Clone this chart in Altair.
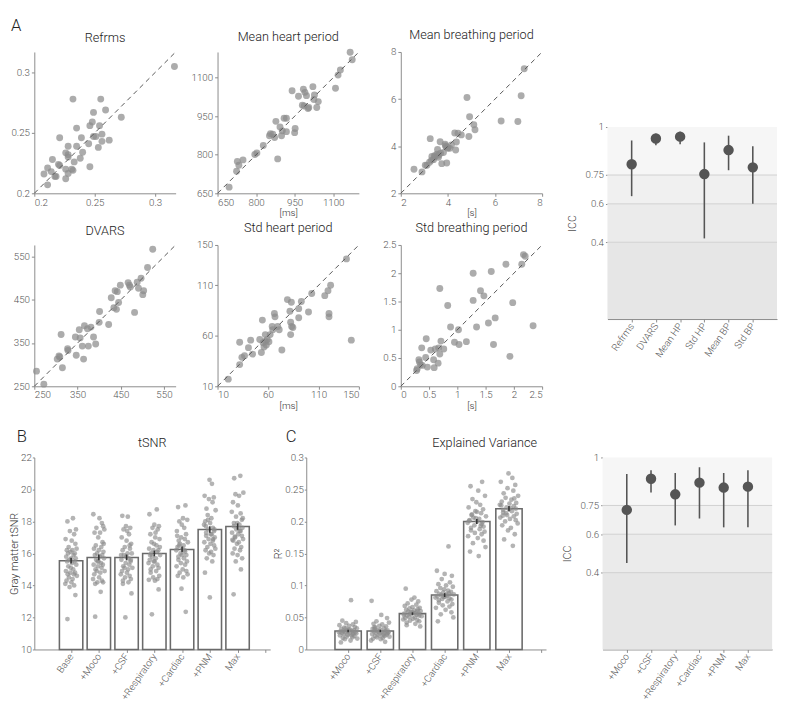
import altair as alt
import pandas as pd

# ---------------- data ----------------
# Panel A scatter plots (session 1 vs session 2)
ref_x = [0.232,0.255,0.249,0.259,0.272,0.248,0.235,0.246,0.254,0.221,0.239,0.249,0.256,0.262,0.256,0.228,0.235,0.245,0.253,0.240,0.226,0.228,0.228,0.233,0.238,0.215,0.220,0.221,0.226,0.231,0.232,0.246,0.211,0.214,0.208,0.217,0.218,0.226,0.228,0.211,0.251,0.316]
ref_y = [0.278,0.278,0.267,0.269,0.263,0.259,0.254,0.256,0.256,0.246,0.246,0.247,0.249,0.244,0.243,0.239,0.239,0.241,0.238,0.234,0.2335,0.232,0.230,0.226,0.229,0.228,0.224,0.223,0.220,0.220,0.219,0.222,0.221,0.218,0.216,0.214,0.214,0.212,0.2165,0.207,0.247,0.305]

hp_x = [695,724,727,733,749,795,803,828,852,856,865,872,877,884,893,899,902,909,918,918,940,950,952,965,984,990,996,1002,987,980,1005,1021,1025,1027,1036,1042,1109,1119,1128,1166,1174]
hp_y = [674,736,774,759,780,801,807,836,874,882,880,867,930,784,908,874,893,942,942,890,1049,886,902,1028,1055,1043,1030,980,990,993,984,1065,1015,1033,984,1007,1059,1110,1130,1199,1170]

bp_x = [2.56,2.90,3.04,3.11,3.22,3.25,3.32,3.39,3.43,3.53,3.56,3.60,3.67,3.69,3.74,3.81,3.88,3.92,3.95,3.99,4.08,4.33,4.36,4.29,4.43,4.57,4.89,4.81,4.92,5.10,5.15,6.26,6.97,7.11,7.24,3.45,3.90,4.00,3.60,4.15,3.30]
bp_y = [3.02,2.91,3.19,3.19,3.32,4.32,3.56,3.43,3.60,3.66,3.86,3.53,4.19,3.70,3.26,3.73,4.09,3.98,3.29,3.91,3.91,3.84,4.18,4.56,4.55,4.48,4.41,6.07,5.25,4.91,4.70,5.07,5.05,6.14,7.29,3.55,4.02,3.95,3.62,4.05,3.40]

dv_x = [255,272,303,307,309,315,312,327,328,345,347,354,356,361,364,366,373,375,381,387,392,400,401,422,428,434,437,440,442,445,449,467,470,472,482,488,491,497,501,503,512,524]
dv_y = [285,255,313,320,318,293,370,337,333,364,322,381,362,343,313,390,383,343,387,364,348,398,423,393,455,432,471,428,469,444,484,490,484,480,421,491,477,500,462,471,525,567]

sh_x = [20.6,31.9,34.1,36.7,31.9,40.6,42.8,44.7,51.8,54.4,53.4,55.1,56.0,57.3,58.3,57.3,59.2,60.9,62.1,64.1,64.7,66.3,66.9,69.6,71.1,73.7,79.2,83.1,81.7,82.4,83.4,82.4,84.6,90.4,90.4,93.0,100.1,103.3,116.2,119.4,122.0,120.4,120.4,137.7,142.5]
sh_y = [17.1,31.5,38.7,40.2,53.7,48.3,55.7,41.9,56.3,75.6,43.5,53.1,48.9,54.7,50.8,61.2,56.3,54.1,61.2,69.2,66.0,82.1,78.8,69.2,66.0,46.0,95.9,93.3,84.3,73.4,69.2,61.2,68.2,86.9,77.9,94.0,83.6,102.0,99.8,104.6,110.1,82.1,78.8,136.2,55.7]

sb_x = [0.28,0.29,0.32,0.33,0.35,0.38,0.44,0.45,0.37,0.47,0.53,0.58,0.59,0.61,0.66,0.67,0.69,0.69,0.71,0.83,0.88,0.76,0.95,1.02,1.03,1.16,1.28,1.28,1.34,1.41,1.47,1.55,1.60,1.64,1.67,1.86,1.93,1.98,2.14,2.17,2.20,2.34]
sb_y = [0.28,0.31,0.47,0.43,0.38,0.37,0.51,0.84,0.68,0.34,0.64,0.47,0.33,0.66,0.41,0.68,1.73,0.57,0.80,1.43,1.05,0.66,0.78,1.00,0.74,0.79,2.00,1.52,1.05,1.69,1.60,1.12,2.03,0.74,1.21,2.16,0.53,1.48,2.16,2.33,2.30,1.07]

# ICC panels
icc_top_names = ["Refrms", "DVARS", "Mean HP", "Std HP", "Mean BP", "Std BP"]
icc_top = [0.806, 0.940, 0.950, 0.755, 0.880, 0.790]
icc_top_lo = [0.640, 0.905, 0.910, 0.420, 0.775, 0.600]
icc_top_hi = [0.930, 0.965, 0.975, 0.920, 0.955, 0.900]

icc_bot_names = ["+Moco", "+CSF", "+Respiratory", "+Cardiac", "+PNM", "Max"]
icc_bot = [0.727, 0.889, 0.808, 0.869, 0.843, 0.848]
icc_bot_lo = [0.450, 0.818, 0.646, 0.682, 0.636, 0.636]
icc_bot_hi = [0.914, 0.934, 0.919, 0.949, 0.919, 0.934]

icc_ticks = [0.4, 0.6, 0.75, 1]
band_lo = [0, 0.4, 0.6, 0.75]
band_hi = [0.4, 0.6, 0.75, 1]
band_col = ["#e6e6e6", "#ebebeb", "#f0f0f0", "#f6f6f6"]

# Panel B: tSNR
tsnr_names = ["Base", "+Moco", "+CSF", "+Respiratory", "+Cardiac", "+PNM", "Max"]
tsnr_mean = [15.55, 15.75, 15.75, 16.0, 16.25, 17.5, 17.68]
tsnr_sem = [0.18, 0.18, 0.18, 0.18, 0.18, 0.2, 0.2]
t_base = [18.2,18.0,17.5,17.4,17.2,16.9,16.8,16.6,16.4,16.3,16.2,16.2,16.1,16.0,16.0,15.9,15.8,15.7,15.7,15.6,15.5,15.5,15.4,15.3,15.2,15.1,15.0,14.9,14.8,14.8,14.7,14.7,14.6,14.5,14.4,14.3,14.2,14.1,14.0,13.9,13.4,11.9]
t_moco = [18.45,18.2,17.7,17.6,17.5,17.3,17.3,17.0,16.7,16.5,16.4,16.3,16.2,16.1,16.0,15.9,15.9,15.8,15.7,15.6,15.5,15.4,15.3,15.3,15.2,15.1,15.0,14.9,14.9,14.8,14.7,14.5,14.4,14.3,14.2,14.2,14.1,13.6,12.05,16.6,15.5,17.9]
t_csf = [18.35,18.3,17.7,17.6,17.5,17.2,17.0,16.8,16.6,16.4,16.3,16.2,16.0,16.0,15.9,15.8,15.7,15.6,15.5,15.4,15.3,15.2,15.1,15.1,15.0,14.9,14.8,14.7,14.6,14.5,14.4,14.3,14.2,14.1,13.5,12.0,16.5,15.9,17.4,15.6]
t_resp = [18.75,18.45,17.8,17.7,17.6,17.5,17.2,17.0,16.9,16.7,16.6,16.5,16.3,16.2,16.2,16.1,16.0,15.9,15.8,15.7,15.6,15.5,15.4,15.3,15.2,15.1,15.0,14.9,14.8,14.6,14.5,14.4,14.35,14.3,13.75,12.2,16.4,15.9,17.3,15.5]
t_card = [19.0,18.9,18.2,18.1,18.0,17.8,17.6,17.4,17.2,17.0,16.9,16.8,16.7,16.6,16.5,16.4,16.3,16.2,16.1,16.0,15.9,15.8,15.7,15.6,15.5,15.4,15.3,15.2,15.0,14.9,14.8,14.7,14.6,14.5,13.8,12.35,16.5,16.2,17.1,15.9]
t_pnm = [20.6,20.35,19.6,19.5,19.4,19.2,18.8,18.7,18.4,18.2,18.0,17.9,17.8,17.6,17.5,17.4,17.3,17.2,17.1,17.0,16.9,16.8,16.7,16.6,16.5,16.4,16.3,16.2,16.1,16.0,15.9,15.7,15.5,14.8,13.25,17.5,18.1,16.9,17.7,17.2]
t_max = [20.85,20.7,19.8,19.7,19.6,19.2,19.0,18.6,18.5,18.3,18.1,17.9,17.8,17.7,17.6,17.5,17.4,17.3,17.2,17.1,17.0,16.9,16.8,16.7,16.6,16.4,16.3,16.2,16.0,15.9,15.7,15.5,15.0,13.45,17.6,18.2,17.05,17.9,17.4,16.85]

# Panel C: explained variance
r2_mean = [0.029, 0.029, 0.056, 0.085, 0.200, 0.220]
r2_sem = [0.002, 0.002, 0.002, 0.003, 0.004, 0.004]
r_moco = [0.077,0.045,0.043,0.041,0.039,0.038,0.037,0.035,0.034,0.033,0.032,0.031,0.030,0.030,0.029,0.029,0.028,0.028,0.027,0.027,0.026,0.026,0.025,0.025,0.024,0.023,0.022,0.022,0.021,0.020,0.019,0.018,0.017,0.016,0.014,0.011,0.031,0.027,0.024,0.033]
r_csf = [0.076,0.054,0.049,0.044,0.042,0.040,0.039,0.037,0.036,0.034,0.033,0.032,0.031,0.030,0.030,0.029,0.028,0.027,0.027,0.026,0.025,0.024,0.024,0.023,0.022,0.021,0.021,0.020,0.019,0.018,0.017,0.016,0.014,0.012,0.028,0.025,0.032,0.023,0.035,0.026]
r_resp = [0.095,0.081,0.078,0.075,0.072,0.070,0.068,0.066,0.065,0.064,0.063,0.062,0.061,0.060,0.059,0.058,0.057,0.056,0.056,0.055,0.054,0.053,0.052,0.051,0.050,0.049,0.048,0.047,0.046,0.045,0.044,0.042,0.040,0.038,0.036,0.058,0.060,0.054,0.057,0.053]
r_card = [0.161,0.123,0.118,0.115,0.110,0.105,0.102,0.100,0.098,0.096,0.094,0.092,0.091,0.090,0.089,0.088,0.087,0.086,0.085,0.084,0.083,0.082,0.081,0.080,0.079,0.078,0.077,0.075,0.073,0.071,0.069,0.067,0.065,0.062,0.058,0.055,0.050,0.044,0.086,0.082]
r_pnm = [0.262,0.255,0.248,0.240,0.235,0.230,0.226,0.222,0.219,0.216,0.213,0.210,0.208,0.206,0.204,0.202,0.200,0.198,0.196,0.194,0.192,0.190,0.188,0.186,0.184,0.182,0.180,0.177,0.174,0.170,0.166,0.160,0.153,0.146,0.205,0.199,0.211,0.193,0.201,0.215]
r_max = [0.275,0.268,0.262,0.257,0.252,0.248,0.244,0.240,0.237,0.234,0.231,0.228,0.226,0.224,0.222,0.220,0.218,0.216,0.214,0.212,0.210,0.208,0.206,0.204,0.202,0.200,0.197,0.194,0.190,0.186,0.180,0.172,0.162,0.225,0.219,0.229,0.213,0.236,0.209,0.221]

# horizontal jitter pattern for the strip dots (fraction of spread)
jitter = [0.3,-0.6,0.8,-0.2,0.5,-0.9,0.1,0.7,-0.4,0.9,-0.7,0.2,-0.1,0.6,-0.5,0.4,-0.8,0.0,0.75,-0.3,0.55,-0.65,0.15,0.85,-0.45,-0.05,0.35,-0.85,0.65,-0.15,0.45,-0.55,0.95,-0.35,0.25,-0.75,0.05,-0.95,0.5,-0.25,0.7,-0.6]

# ---------------- styling ----------------
FONT = "Roboto"
LABEL = "#555555"
AXISC = "#8a8a8a"
DOT = "#8c8c8c"
NUM = "'' + datum.value"


def lab_expr(names):
    arr = "[" + ",".join("'%s'" % s for s in names) + "]"
    return "datum.value >= 1 && datum.value <= %d ? %s[datum.value - 1] : ''" % (len(names), arr)


def scatter(title, xs, ys, dom, ticks, unit=None):
    df = pd.DataFrame({"s1": xs, "s2": ys})
    diag = pd.DataFrame({"s1": dom, "s2": dom})
    sc = alt.Scale(domain=dom, nice=False, zero=False)
    if unit:
        xax = alt.Axis(values=ticks, labelExpr=NUM, title=unit, titlePadding=1, titleFontSize=10,
                       tickSize=3, labelPadding=1)
    else:
        xax = alt.Axis(values=ticks, labelExpr=NUM, title=None, tickSize=3, labelPadding=1)
    yax = alt.Axis(values=ticks, labelExpr=NUM, title=None, tickSize=3, labelPadding=2)
    enc = dict(x=alt.X("s1:Q", scale=sc, axis=xax), y=alt.Y("s2:Q", scale=sc, axis=yax))
    pts = alt.Chart(df).mark_circle(size=50, color=DOT, opacity=0.72).encode(**enc)
    line = alt.Chart(diag).mark_line(strokeDash=[5, 4], color="#555555", strokeWidth=1).encode(**enc)
    return alt.layer(pts, line).properties(
        width=145, height=145, title=alt.TitleParams(title, offset=5))


def icc_panel(names, pt, lo, hi, w, h, top_gap=0):
    n = len(names)
    df = pd.DataFrame({"pos": list(range(1, n + 1)), "icc": pt, "lo": lo, "hi": hi})
    bdf = pd.DataFrame({"pos": [0] * 4, "xb": [n + 1] * 4, "icc": band_lo, "y1": band_hi, "shade": band_col})
    rdf = pd.DataFrame({"icc": icc_ticks[:-1]})
    xs = alt.Scale(domain=[0, n + 1], nice=False, zero=False)
    ys = alt.Scale(domain=[0, 1], nice=False, zero=False, range=[h, top_gap])
    xax = alt.Axis(values=list(range(1, n + 1)), labelExpr=lab_expr(names), labelAngle=-55,
                   labelOverlap=False, title=None, tickSize=3, labelPadding=2)
    yax = alt.Axis(values=icc_ticks, labelExpr=NUM, title="ICC", domain=False, tickSize=2,
                   labelPadding=2, titlePadding=8)
    X = alt.X("pos:Q", scale=xs, axis=xax)
    Y = alt.Y("icc:Q", scale=ys, axis=yax)
    bands = alt.Chart(bdf).mark_rect().encode(
        x=X, x2="xb:Q", y=Y, y2="y1:Q", color=alt.Color("shade:N", scale=None))
    rules = alt.Chart(rdf).mark_rule(color="#d0d0d0", strokeWidth=1).encode(y=Y)
    err = alt.Chart(df).mark_rule(color="#555555", strokeWidth=1.6).encode(
        x=X, y=alt.Y("lo:Q", scale=ys, axis=yax), y2="hi:Q")
    pts = alt.Chart(df).mark_circle(size=115, color="#555555", opacity=1).encode(x=X, y=Y)
    return alt.layer(bands, rules, err, pts).properties(width=w, height=h)


def bar_panel(names, means, sems, groups, ydom, yticks, ytitle, xmax, w, h, bsize, jscale,
              title, panel_letter, ldx, ldy, tdx=0):
    n = len(names)
    xs = alt.Scale(domain=[-0.15, xmax], nice=False, zero=False)
    ys = alt.Scale(domain=ydom, nice=False, zero=False)
    xax = alt.Axis(values=list(range(1, n + 2)), labelExpr=lab_expr(names), labelAngle=-55,
                   labelOverlap=False, title=None, tickSize=3, labelPadding=2)
    yax = alt.Axis(values=yticks, labelExpr=NUM, title=ytitle, titlePadding=1, tickSize=2,
                   labelPadding=1)
    X = alt.X("pos:Q", scale=xs, axis=xax)
    Y = alt.Y("m:Q", scale=ys, axis=yax)
    bdf = pd.DataFrame({"pos": list(range(1, n + 1)), "m": means, "base": [ydom[0]] * n,
                        "lo": [m - s for m, s in zip(means, sems)],
                        "hi": [m + s for m, s in zip(means, sems)]})
    rows = []
    for k, vals in enumerate(groups):
        for i, v in enumerate(vals):
            rows.append({"pos": k + 1, "m": v, "j": jitter[(i + 5 * k) % len(jitter)]})
    ddf = pd.DataFrame(rows)
    bars = alt.Chart(bdf).mark_bar(size=bsize, fill="white", stroke="#6a6a6a", strokeWidth=1.6).encode(
        x=X, y=Y, y2="base:Q")
    dots = alt.Chart(ddf).transform_calculate(xj="datum.pos + datum.j * %f" % jscale).mark_circle(
        size=24, color=DOT, opacity=0.65).encode(x=alt.X("xj:Q", scale=xs, axis=xax), y=Y)
    err = alt.Chart(bdf).mark_rule(color="#333333", strokeWidth=1.6).encode(
        x=X, y=alt.Y("lo:Q", scale=ys, axis=yax), y2="hi:Q")
    ldf = pd.DataFrame({"pos": [-0.15], "m": [ydom[1]], "t": [panel_letter]})
    let = alt.Chart(ldf).mark_text(fontSize=17, font=FONT, fontWeight=300, color="#222222",
                                   align="left", baseline="top", dx=ldx, dy=ldy).encode(
        x=X, y=Y, text="t:N")
    # the letter sits above the plot; pull the centred title back down next to the plot
    return alt.layer(bars, dots, err, let).properties(
        width=w, height=h, title=alt.TitleParams(title, offset=ldy + 7, dx=tdx, frame="group"))


# ---------------- panels ----------------
p_ref = scatter("Refrms", ref_x, ref_y, [0.2, 0.317], [0.2, 0.25, 0.3])
p_hp = scatter("Mean heart period", hp_x, hp_y, [650, 1200], [650, 800, 950, 1100], "[ms]")
p_bp = scatter("Mean breathing period", bp_x, bp_y, [2, 8], [2, 4, 6, 8], "[s]")
p_dv = scatter("DVARS", dv_x, dv_y, [250, 577], [250, 350, 450, 550])
p_sh = scatter("Std heart period", sh_x, sh_y, [10, 150], [10, 60, 110, 150], "[ms]")
p_sb = scatter("Std breathing period", sb_x, sb_y, [0, 2.5], [0, 0.5, 1, 1.5, 2, 2.5], "[s]")

grid = alt.concat(p_ref, p_hp, p_bp, p_dv, p_sh, p_sb, columns=3,
                  spacing={"row": 53, "column": 43}, bounds="flush")

icc_a = icc_panel(icc_top_names, icc_top, icc_top_lo, icc_top_hi, 174, 274, top_gap=77)
top = alt.hconcat(grid, icc_a, spacing=22,
                  title=alt.TitleParams("A", anchor="start", fontSize=17, offset=-5))

p_tsnr = bar_panel(tsnr_names, tsnr_mean, tsnr_sem,
                   [t_base, t_moco, t_csf, t_resp, t_card, t_pnm, t_max],
                   [10, 22], [10, 12, 14, 16, 18, 20, 22], "Gray matter tSNR", 8.0,
                   242, 197, 24, 0.22, "tSNR", "B", -23, -29)
p_r2 = bar_panel(icc_bot_names, r2_mean, r2_sem,
                 [r_moco, r_csf, r_resp, r_card, r_pnm, r_max],
                 [0, 0.3], [0, 0.05, 0.1, 0.15, 0.2, 0.25, 0.3], "R²", 7.0,
                 246, 197, 27, 0.3, "Explained Variance", "C", -26, -29, tdx=60)
icc_b = icc_panel(icc_bot_names, icc_bot, icc_bot_lo, icc_bot_hi, 174, 197)
bottom = alt.hconcat(alt.hconcat(p_tsnr, p_r2, spacing=2), icc_b, spacing=15)

chart = alt.vconcat(top, bottom, spacing=18).configure_view(
    stroke=None
).configure_axis(
    labelFont=FONT, titleFont=FONT, labelColor=LABEL, titleColor="#333333",
    labelFontSize=10, titleFontSize=11, titleFontWeight=300, labelFontWeight=300,
    grid=False, domainColor=AXISC, tickColor=AXISC
).configure_title(
    font=FONT, fontSize=13, fontWeight=300, color="#222222"
).properties(padding=0)

chart.save("out.html", embed_options={"renderer": "svg", "actions": False})
